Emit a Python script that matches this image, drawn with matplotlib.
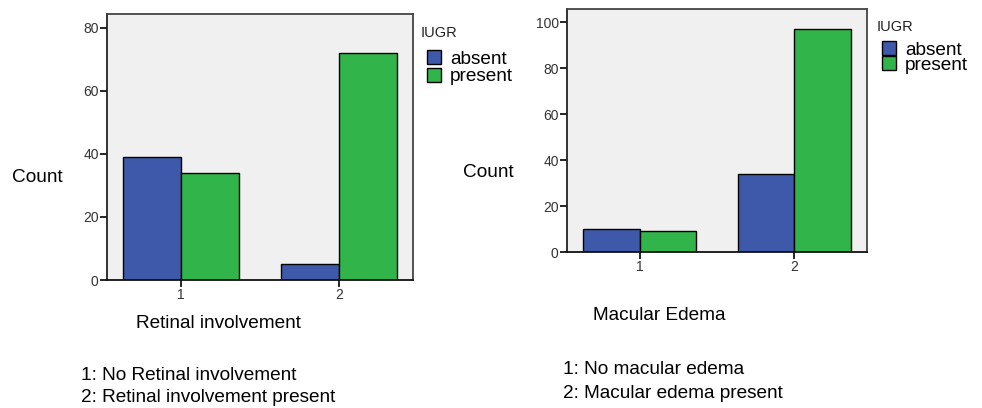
import numpy as np
import matplotlib.pyplot as plt

plt.rcParams['font.family'] = ['Liberation Sans', 'DejaVu Sans']

# data
groups = ['absent', 'present']
categories = [1, 2]
retinal_counts = {'absent': [39, 5], 'present': [34, 72]}
macular_counts = {'absent': [10, 34], 'present': [9, 97]}

colors = {'absent': '#3F59AA', 'present': '#31B44A'}
W, H = 982, 408


def px(x, y):
    return x / W, 1 - y / H


def draw_panel(ax, counts, ymax, yticks):
    x = np.array(categories, dtype=float)
    bw = 0.367
    handles = []
    for i, g in enumerate(groups):
        off = (i - 0.5) * bw
        b = ax.bar(x + off, counts[g], width=bw, color=colors[g],
                   edgecolor='black', linewidth=1, label=g, zorder=2)
        handles.append(b)
    ax.set_xlim(0.53, 2.47)
    ax.set_ylim(0, ymax)
    ax.set_facecolor('#F0F0F0')
    ax.set_xticks(categories)
    ax.set_yticks(yticks)
    ax.tick_params(axis='both', labelsize=10, labelcolor='#333333',
                   length=5, width=1.2, direction='out', pad=1)
    for s in ax.spines.values():
        s.set_color('#444444')
        s.set_linewidth(1.3)
    ax.spines['left'].set_color('#222222')
    ax.spines['bottom'].set_color('#111111')
    return handles


fig = plt.figure(figsize=(W / 100, H / 100), dpi=100)

ax1 = fig.add_axes([107 / W, 1 - 280 / H, 306 / W, 266 / H])
h1 = draw_panel(ax1, retinal_counts, 84.4, [0, 20, 40, 60, 80])

ax2 = fig.add_axes([567 / W, 1 - 252 / H, 300 / W, 243 / H])
h2 = draw_panel(ax2, macular_counts, 105.8, [0, 20, 40, 60, 80, 100])

fs = 13.7
for ax, handles, anchor, spacing in [(ax1, h1, (427, 50), 0.0),
                                     (ax2, h2, (882, 41), -0.12)]:
    ax.legend(handles, groups, loc='upper left',
              bbox_to_anchor=px(*anchor), bbox_transform=fig.transFigure,
              frameon=False, fontsize=fs, borderpad=0, borderaxespad=0,
              handlelength=0.75, handleheight=0.75, handletextpad=0.45,
              labelspacing=spacing)

fig.text(*px(421, 33), 'IUGR', fontsize=10.5, va='center', ha='left', color='#222222')
fig.text(*px(877, 27), 'IUGR', fontsize=10.5, va='center', ha='left', color='#222222')

fig.text(*px(12, 178), 'Count', fontsize=fs, va='center', ha='left')
fig.text(*px(463, 172), 'Count', fontsize=fs, va='center', ha='left')

fig.text(*px(218, 323), 'Retinal involvement', fontsize=fs, va='center', ha='center')
fig.text(*px(659, 315), 'Macular Edema', fontsize=fs, va='center', ha='center')

fig.text(*px(81, 375), '1: No Retinal involvement', fontsize=fs, va='center', ha='left')
fig.text(*px(81, 398), '2: Retinal involvement present', fontsize=fs, va='center', ha='left')
fig.text(*px(563, 369), '1: No macular edema', fontsize=fs, va='center', ha='left')
fig.text(*px(563, 393), '2: Macular edema present', fontsize=fs, va='center', ha='left')

fig.savefig('out.png', dpi=100, facecolor='white')
